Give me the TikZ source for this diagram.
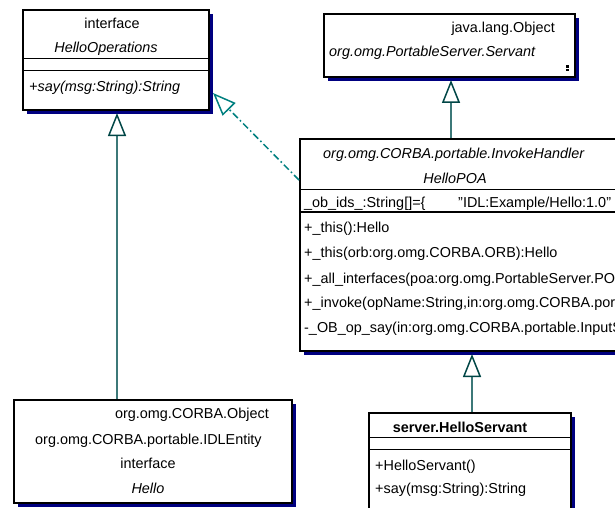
\documentclass[tikz,border=0pt]{standalone}
\usepackage{fontspec}
\setmainfont{Liberation Sans}
\usetikzlibrary{arrows.meta,shadows}
\definecolor{shadowc}{RGB}{0,0,128}
\definecolor{linkc}{RGB}{60,120,120}
\definecolor{tipc}{RGB}{0,70,70}
\definecolor{dashc}{RGB}{0,128,128}
\begin{document}
\begin{tikzpicture}[x=1pt,y=-1pt,
  box/.style={draw=black, line width=1.8pt, fill=white, inner sep=0pt, anchor=north west,
    drop shadow={shadow xshift=4pt, shadow yshift=-4pt, fill=shadowc, opacity=1}},
  sep/.style={line width=1pt},
  txt/.style={inner sep=0pt, font=\fontsize{14.4}{16}\selectfont},
  conn/.style={draw=linkc, line width=1.5pt, -{Triangle[open, length=23pt, width=18pt, color=tipc]}},
  realize/.style={draw=dashc, line width=1.5pt, dash pattern=on 7pt off 3pt on 1.5pt off 3pt,
    -{Triangle[open, length=23pt, width=18pt, color=dashc]}}]
\useasboundingbox (0,0) rectangle (615,508);
\clip (0,0) rectangle (615,508);
\fill[white] (0,0) rectangle (615,508);

% boxes
\node[box, minimum width=186pt, minimum height=100pt] (ops) at (22,9) {};
\node[box, minimum width=251pt, minimum height=63pt] (srv) at (323,13) {};
\node[box, minimum width=400pt, minimum height=212pt] (poa) at (299,138) {};
\node[box, minimum width=278pt, minimum height=103pt] (hello) at (13,399) {};
\node[box, minimum width=202pt, minimum height=190pt] (servant) at (368,412) {};

% separators
\draw[sep] (ops.west |- 0,59) -- (ops.east |- 0,59);
\draw[sep] (ops.west |- 0,71) -- (ops.east |- 0,71);
\draw[sep] (poa.west |- 0,189) -- (poa.east |- 0,189);
\draw[line width=1.6pt] (poa.west |- 0,212) -- (poa.east |- 0,212);
\draw[sep] (servant.west |- 0,437) -- (servant.east |- 0,437);
\draw[sep] (servant.west |- 0,449) -- (servant.east |- 0,449);

% texts: HelloOperations
\node[txt, anchor=base] (t1a) at (112,29) {interface};
\node[txt, anchor=base] (t1b) at (106,53) {\itshape HelloOperations};
\node[txt, anchor=base west] (t1c) at (29,92) {\itshape +say(msg:String):String};

% Servant
\node[txt, anchor=base east] (t2a) at (555,33) {java.lang.Object};
\node[txt, anchor=base west] (t2b) at (329,57) {\itshape org.omg.PortableServer.Servant};
\fill[black] (566,65.5) rectangle (569,68.5);
\fill[black] (566,69.3) rectangle (569,71.5);

% HelloPOA
\node[txt, anchor=base west] (t3a) at (323,158) {\itshape org.omg.CORBA.portable.InvokeHandler};
\node[txt, anchor=base] (t3b) at (455,183) {\itshape HelloPOA};
\node[txt, anchor=base west] (t3c) at (304,207) {\_ob\_ids\_:String[]=\{};
\node[txt, anchor=base west] (t3d) at (458,207) {"IDL:Example/Hello:1.0"};
\node[txt, anchor=base west] (t3e) at (304,232) {+\_this():Hello};
\node[txt, anchor=base west] (t3f) at (304,257) {+\_this(orb:org.omg.CORBA.ORB):Hello};
\node[txt, anchor=base west] (t3g) at (304,283) {+\_all\_interfaces(poa:org.omg.PortableServer.POA,objectId:byte[]):String[]};
\node[txt, anchor=base west] (t3h) at (304,307) {+\_invoke(opName:String,in:org.omg.CORBA.portable.InputStream,handler:org.omg.CORBA.portable.ResponseHandler)};
\node[txt, anchor=base west] (t3i) at (304,332) {-\_OB\_op\_say(in:org.omg.CORBA.portable.InputStream,handler:org.omg.CORBA.portable.ResponseHandler)};

% Hello
\node[txt, anchor=base east] (t4a) at (269,418) {org.omg.CORBA.Object};
\node[txt, anchor=base west] (t4b) at (35,444) {org.omg.CORBA.portable.IDLEntity};
\node[txt, anchor=base] (t4c) at (148,468) {interface};
\node[txt, anchor=base] (t4d) at (148,493) {\itshape Hello};

% HelloServant
\node[txt, anchor=base] (t5a) at (460,432) {\bfseries server.HelloServant};
\node[txt, anchor=base west] (t5b) at (375,470) {+HelloServant()};
\node[txt, anchor=base west] (t5c) at (375,493) {+say(msg:String):String};

% connectors
\coordinate (p1) at (117,113);
\coordinate (p2) at (451,80);
\coordinate (p3) at (472,354);
\coordinate (p4) at (213,93);
\coordinate (s4) at (0,180);
\draw[conn] (hello.north -| p1) -- (p1);
\draw[conn] (poa.north -| p2) -- (p2);
\draw[conn] (servant.north -| p3) -- (p3);
\draw[realize] (poa.west |- s4) -- (p4);
\end{tikzpicture}
\end{document}
